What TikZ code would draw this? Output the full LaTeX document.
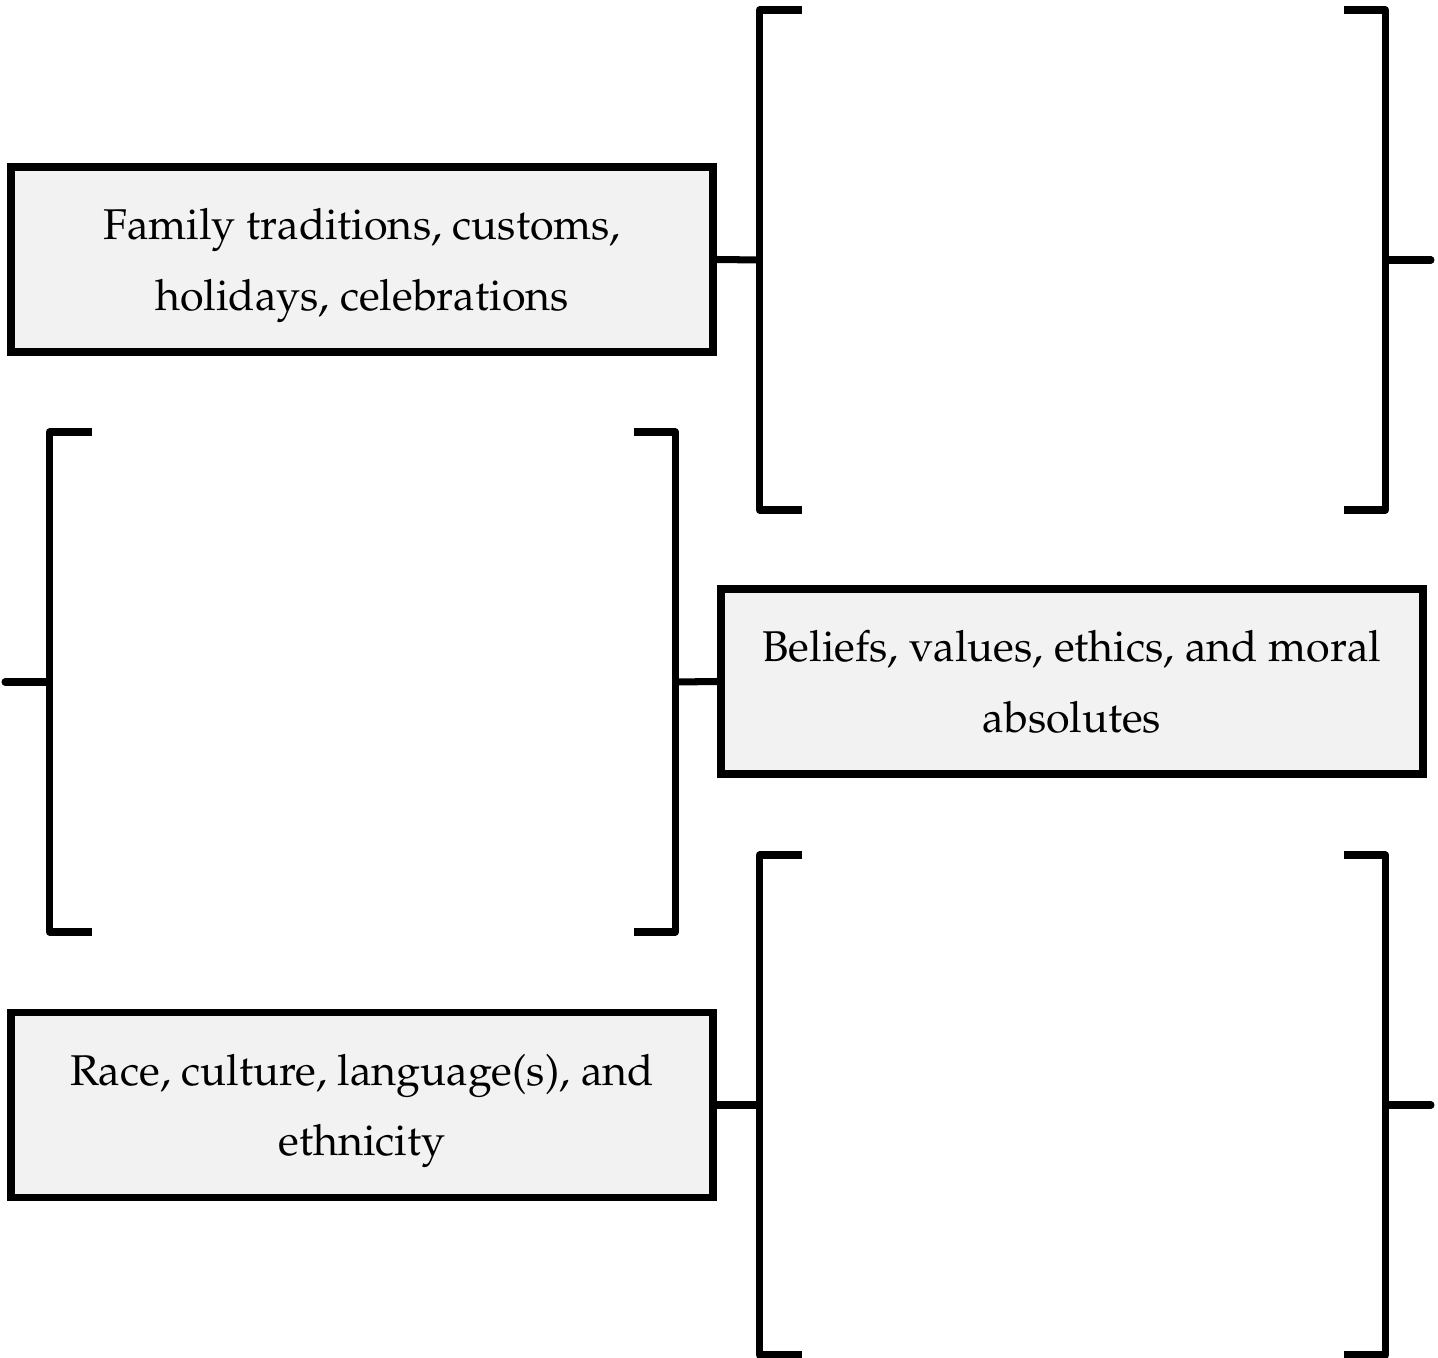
\documentclass[tikz,border=0pt]{standalone}
\usepackage[T1]{fontenc}
\renewcommand{\rmdefault}{ppl}
\definecolor{boxgray}{HTML}{F2F2F2}
\tikzset{
  topic/.style={draw, line width=4.5pt, fill=boxgray, minimum width=14.04cm,
    minimum height=3.7cm, align=center, inner sep=0pt, text depth=-10pt,
    font=\fontsize{24.5}{40}\selectfont},
  bracket/.style={line width=4pt, line join=round},
  link/.style={line width=4pt},
  stub/.style={line width=4pt, line cap=round}
}
\begin{document}
\begin{tikzpicture}[x=0.02cm, y=-0.02cm]
    \useasboundingbox (0,0) rectangle (1438,1358);

    % Boxes
    \node[topic] (family) at (362,259.5) {Family traditions, customs,\\holidays, celebrations};
    \node[topic] (beliefs) at (1072,681.5) {Beliefs, values, ethics, and moral\\absolutes};
    \node[topic] (race) at (362,1105) {Race, culture, language(s), and\\ethnicity};

    % Brackets
    \foreach \bx/\by [count=\i] in {759.5/260, 49.5/682, 759.5/1105} {
        \draw[bracket] (\bx+42,\by-250) -- (\bx,\by-250) -- (\bx,\by+250) -- (\bx+42,\by+250);
        \draw[bracket] (\bx+584,\by-250) -- (\bx+626,\by-250) -- (\bx+626,\by+250) -- (\bx+584,\by+250);
        \coordinate (left\i) at (\bx,\by);
        \coordinate (right\i) at (\bx+626,\by);
    }

    % Free ends
    \coordinate (end1) at (1431,260);
    \coordinate (end2) at (5,682);
    \coordinate (end3) at (1431,1105);

    % Connectors
    \draw[link] (family.east) -- (left1);
    \draw[stub] (right1) -- (end1);
    \draw[stub] (end2) -- (left2);
    \draw[link] (right2) -- (beliefs.west);
    \draw[link] (race.east) -- (left3);
    \draw[stub] (right3) -- (end3);
\end{tikzpicture}
\end{document}
